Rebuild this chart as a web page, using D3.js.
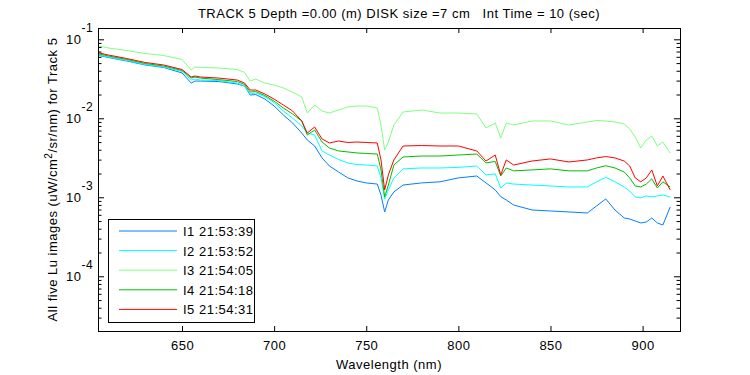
<!DOCTYPE html>
<html>
<head>
<meta charset="utf-8">
<script src="https://cdn.jsdelivr.net/npm/d3@7"></script>
<style>
  body { margin: 0; background: #fff; }
  svg { font-family: "Liberation Sans", Arial, Helvetica, sans-serif; }
  svg text { letter-spacing: 0.5px; }
  .tick text { font-size: 13px; }
</style>
</head>
<body>
<div id="chart"></div>
<script>
// wavelength grid (nm) shared by all five images
var wavelength = [605,610,620,630,640,650,655,657,660,670,680,684,687,690,695,700,705,710,715,718,
  722,726,730,735,740,745,750,756,758,760,762,765,770,780,790,800,810,815,820,823,
  826,830,840,850,860,870,875,880,885,890,893,896,899,902,905,908,911,915];

var i1 = [0.0624,0.0589,0.0531,0.0473,0.0440,0.0375,0.0279,0.0296,0.0296,0.0292,
  0.0272,0.0256,0.0197,0.0200,0.0175,0.01432,0.01101,0.00872,0.00651,0.00531,
  0.00446,0.00315,0.00249,0.00209,0.00176,0.00161,0.00152,0.00147,0.00107,0.000652,
  0.000924,0.00117,0.00143,0.00152,0.00157,0.00176,0.00186,0.00152,0.00124,0.00102,
  0.000924,0.000799,0.000691,0.000671,0.000652,0.000633,0.000776,0.000952,0.000691,0.000547,
  0.000531,0.000501,0.000473,0.000487,0.000547,0.000473,0.000446,0.000754];

var i2 = [0.0633,0.0597,0.0539,0.0480,0.0446,0.0391,0.0305,0.0314,0.0305,0.0300,
  0.0279,0.0256,0.0203,0.0209,0.0188,0.0158,0.01237,0.01009,0.00799,0.00651,
  0.00614,0.00386,0.00343,0.00301,0.00272,0.00260,0.00256,0.00249,0.00176,0.000952,
  0.00124,0.00176,0.00229,0.00235,0.00235,0.00239,0.00249,0.00192,0.00198,0.00131,
  0.00152,0.00147,0.00143,0.00139,0.00135,0.00135,0.00157,0.00179,0.00157,0.00135,
  0.00120,0.00101,0.000981,0.00104,0.00101,0.00104,0.00107,0.00101];

var i3 = [0.0823,0.0776,0.0721,0.0661,0.0624,0.0555,0.0409,0.0446,0.0440,0.0433,
  0.0415,0.0380,0.0296,0.0314,0.0279,0.0264,0.0242,0.0215,0.0186,0.01167,
  0.01474,0.01237,0.01167,0.01274,0.01391,0.0143,0.0143,0.0135,0.00823,0.00397,
  0.00501,0.00823,0.01201,0.01274,0.01167,0.01167,0.01134,0.00754,0.00872,0.00563,
  0.00872,0.00823,0.00925,0.00925,0.00823,0.00898,0.00938,0.00925,0.00898,0.00848,
  0.00733,0.00579,0.00421,0.00531,0.00597,0.00446,0.00501,0.00364];

var i4 = [0.0652,0.0615,0.0555,0.0494,0.0459,0.0403,0.0323,0.0333,0.0323,0.0309,
  0.0292,0.0268,0.0215,0.0218,0.0194,0.0165,0.0135,0.01134,0.00925,0.00614,
  0.00711,0.00501,0.00421,0.00386,0.00375,0.00364,0.00359,0.00353,0.00222,0.00101,
  0.00143,0.00256,0.00324,0.00333,0.00333,0.00343,0.00353,0.00272,0.00284,0.00186,
  0.00235,0.00216,0.00222,0.00229,0.00216,0.00216,0.00235,0.00251,0.00235,0.00209,
  0.00176,0.00139,0.00135,0.00147,0.00171,0.00131,0.00157,0.00135];

var i5 = [0.0671,0.0633,0.0571,0.0509,0.0473,0.0415,0.0333,0.0343,0.0333,0.0323,
  0.0305,0.0279,0.0228,0.0228,0.0203,0.0175,0.01474,0.01237,0.00925,0.00651,
  0.00776,0.00547,0.00487,0.00516,0.00494,0.00501,0.00494,0.00487,0.00297,0.00124,
  0.00192,0.00297,0.00446,0.00452,0.00446,0.00446,0.00386,0.00288,0.00343,0.00192,
  0.00297,0.00256,0.00288,0.00306,0.00280,0.00297,0.00315,0.00328,0.00315,0.00288,
  0.00249,0.00176,0.00157,0.00176,0.00222,0.00139,0.00186,0.00124];

var seriesNames = ["I1 21:53:39", "I2 21:53:52", "I3 21:54:05", "I4 21:54:18", "I5 21:54:31"];
var seriesColors = ["#0080ff", "#00ffff", "#80ff80", "#00bf00", "#ff0000"];
var xTicks = [650, 700, 750, 800, 850, 900];
var yDecades = [-4, -3, -2, -1];

var width = 750, height = 375;
var margin = {left: 98, right: 70, top: 28, bottom: 44};

var svg = d3.select("#chart").append("svg")
    .attr("width", width)
    .attr("height", height);

var x = d3.scaleLinear()
    .domain([604.4, 920.3])
    .range([margin.left, width - margin.right]);

var y = d3.scaleLog()
    .domain([2.03e-5, 0.139])
    .range([height - margin.bottom, margin.top]);

var all = [i1, i2, i3, i4, i5];

// lines
var line = d3.line()
    .x(function(d){ return x(d.w) })
    .y(function(d){ return y(d.v) });

all.forEach(function(s, k){
    var pts = wavelength.map(function(w, i){ return {w: w, v: s[i]} });
    svg.append("path")
        .datum(pts)
        .attr("d", line)
        .attr("fill", "none")
        .attr("stroke", seriesColors[k])
        .attr("stroke-width", 1);
});

// x axis bottom + top (ticks inward)
svg.append("g")
    .attr("transform", "translate(0," + (height - margin.bottom) + ")")
    .call(d3.axisBottom(x).tickValues(xTicks).tickSizeInner(-5).tickSizeOuter(0).tickPadding(10).tickFormat(d3.format("d")))
    .call(function(g){ g.select(".domain").remove() })
    .selectAll("line").attr("stroke", "#000");

svg.append("g")
    .attr("transform", "translate(0," + margin.top + ")")
    .call(d3.axisTop(x).tickValues(xTicks).tickSizeInner(-5).tickSizeOuter(0).tickFormat(""))
    .call(function(g){ g.select(".domain").remove() });

// y axis: minor ticks
var minor = [];
yDecades.concat([-5]).forEach(function(e){
    for (var m = 2; m <= 9; m++) {
        var v = m * Math.pow(10, e);
        if (v >= y.domain()[0] && v <= y.domain()[1]) minor.push(v);
    }
});
var majors = yDecades.map(function(e){ return Math.pow(10, e) });

[["left", margin.left, d3.axisLeft], ["right", width - margin.right, d3.axisRight]].forEach(function(a){
    svg.append("g")
        .attr("transform", "translate(" + a[1] + ",0)")
        .call(a[2](y).tickValues(minor).tickSizeInner(-3.5).tickSizeOuter(0).tickFormat(""))
        .call(function(g){ g.select(".domain").remove() });
    svg.append("g")
        .attr("transform", "translate(" + a[1] + ",0)")
        .call(a[2](y).tickValues(majors).tickSizeInner(-6).tickSizeOuter(0).tickFormat(""))
        .call(function(g){ g.select(".domain").remove() });
});

// y tick labels 10^n
var ylab = svg.append("g").attr("font-size", 13);
yDecades.forEach(function(e){
    var t = ylab.append("text")
        .attr("x", 66)
        .attr("y", y(Math.pow(10, e)) + 4.5);
    t.append("tspan").text("10");
    t.append("tspan").attr("dy", -12).attr("font-size", 12).text(e);
});

// box
svg.append("rect")
    .attr("x", margin.left + 0.5)
    .attr("y", margin.top + 0.5)
    .attr("width", width - margin.right - margin.left)
    .attr("height", height - margin.bottom - margin.top)
    .attr("fill", "none")
    .attr("stroke", "#000");

// title
svg.append("text")
    .attr("x", 399)
    .attr("y", 18)
    .attr("text-anchor", "middle")
    .attr("font-size", 13)
    .style("white-space", "pre")
    .text("TRACK 5 Depth =0.00 (m) DISK size =7 cm   Int Time = 10 (sec)");

// x label
svg.append("text")
    .attr("x", (margin.left + width - margin.right) / 2)
    .attr("y", 369)
    .attr("text-anchor", "middle")
    .attr("font-size", 13)
    .text("Wavelength (nm)");

// y label
var yl = svg.append("text")
    .attr("transform", "translate(57," + ((margin.top + height - margin.bottom) / 2) + ") rotate(-90)")
    .attr("text-anchor", "middle")
    .attr("font-size", 13);
yl.append("tspan").text("All five Lu images (uW/cm");
yl.append("tspan").attr("dy", -5).attr("font-size", 10).text("2");
yl.append("tspan").attr("dy", 5).text("/sr/nm) for Track 5");

// legend
var lg = svg.append("g");
lg.append("rect")
    .attr("x", 108.5).attr("y", 219.5)
    .attr("width", 146).attr("height", 103)
    .attr("fill", "#fff").attr("stroke", "#000");
seriesNames.forEach(function(n, k){
    var yy = 231 + k * 19.6;
    lg.append("line")
        .attr("x1", 119).attr("x2", 177)
        .attr("y1", yy).attr("y2", yy)
        .attr("stroke", seriesColors[k]);
    lg.append("text")
        .attr("x", 183).attr("y", yy + 5)
        .attr("font-size", 13)
        .text(n);
});
</script>
</body>
</html>
